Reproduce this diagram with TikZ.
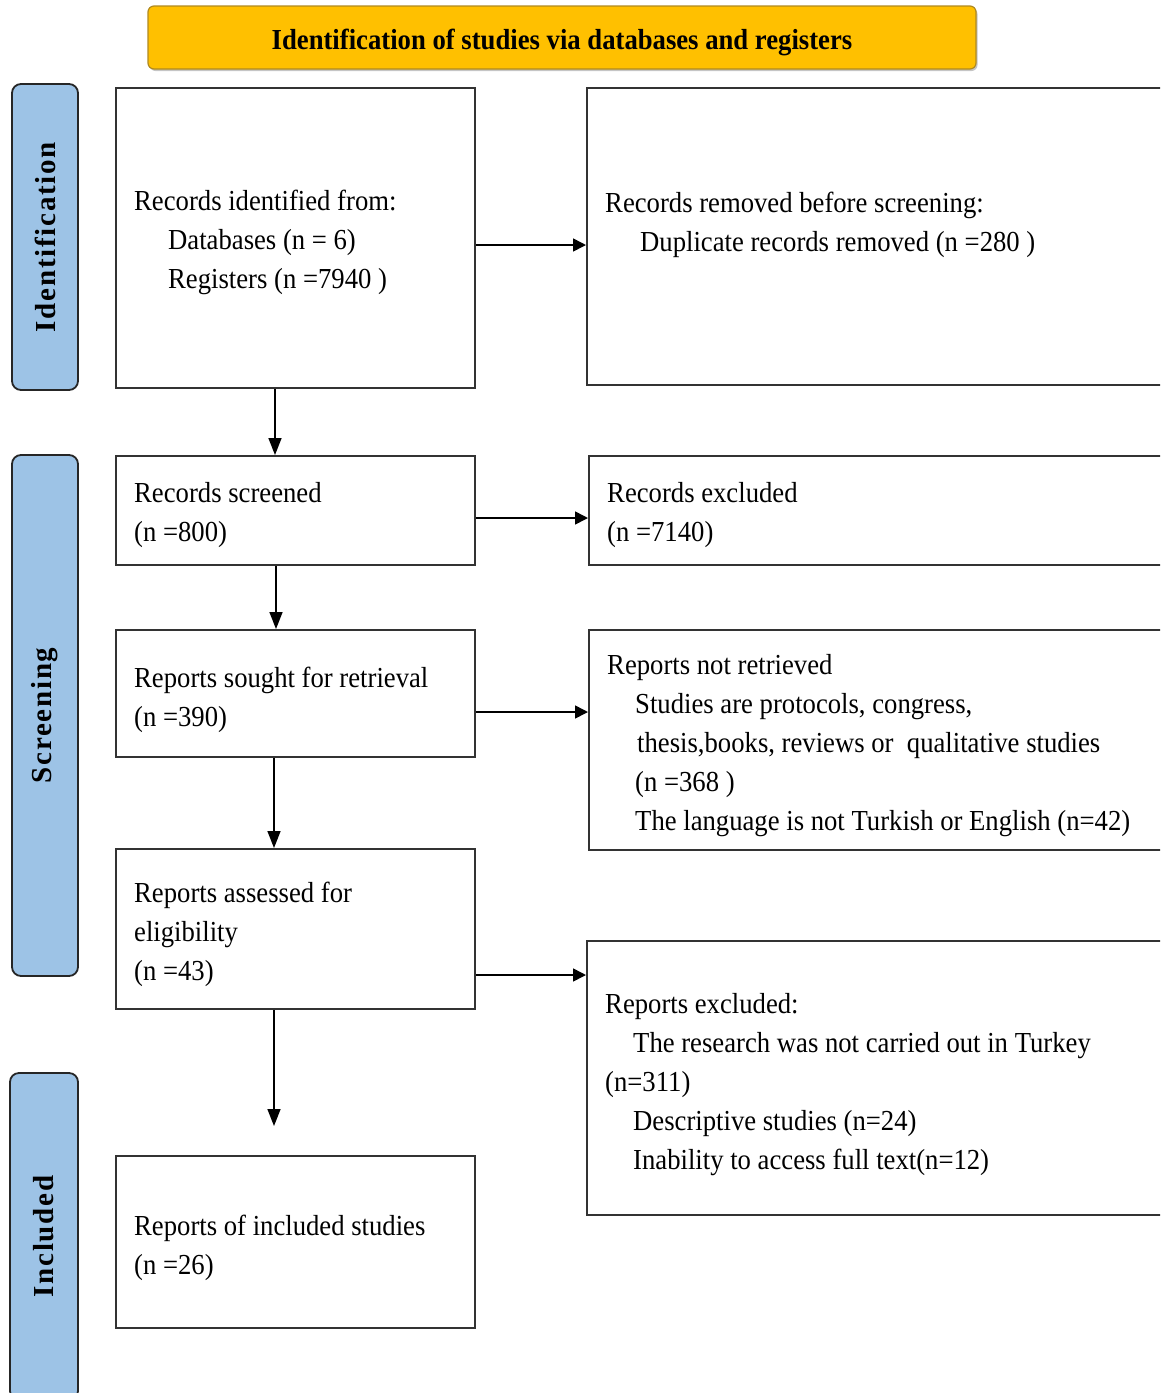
\documentclass[tikz,border=0pt]{standalone}
\usepackage{fontspec}
\setmainfont{Liberation Serif}[FakeStretch=0.92]
\newfontfamily\sidefont{Liberation Serif}[LetterSpace=6]
\usetikzlibrary{arrows.meta,shadows}
\definecolor{sideblue}{HTML}{9DC3E6}
\definecolor{bannergold}{HTML}{FFC000}
\definecolor{bannerline}{HTML}{B08A20}
\begin{document}
\begin{tikzpicture}[x=1pt,y=-1pt,
 box/.style={draw=black!80, line width=2pt, inner sep=0pt, fill=white},
 side/.style={draw=black!85, line width=1.8pt, fill=sideblue, rounded corners=9pt, inner sep=0pt,
   font=\sidefont\bfseries\fontsize{29}{34}\selectfont},
 banner/.style={draw=bannerline, line width=1.2pt, fill=bannergold, rounded corners=6pt, inner sep=0pt,
   drop shadow={shadow xshift=1.5pt, shadow yshift=-2pt, opacity=0.45},
   font=\bfseries\fontsize{29}{34}\selectfont},
 txt/.style={anchor=base west, align=left, inner sep=0pt, font=\fontsize{29}{39.2}\selectfont},
 arr/.style={line width=1.6pt, -{Triangle[length=13pt,width=13pt]}},
 arrd/.style={line width=1.6pt, -{Triangle[length=17pt,width=13pt]}}
]
\useasboundingbox (0,0) rectangle (1160,1393);
\clip (0,0) rectangle (1160,1393);
\fill[white] (0,0) rectangle (1160,1393);

% banner
\node[banner, minimum width=828pt, minimum height=63pt] (ban) at (562,37.5) {\raisebox{-5pt}[\height][\depth]{Identification of studies via databases and registers}};

% side labels
\node[side, rotate=90, minimum width=306pt, minimum height=66pt] (s1) at (45,237) {Identification};
\node[side, rotate=90, minimum width=521pt, minimum height=66pt] (s2) at (45,715.5) {Screening};
\node[side, rotate=90, minimum width=327pt, minimum height=68pt] (s3) at (44,1236.5) {Included};

% boxes
\node[box, minimum width=359pt, minimum height=300pt] (b1) at (295.5,238) {};
\node[box, minimum width=583pt, minimum height=297pt] (b2) at (878.5,236.5) {};
\node[box, minimum width=359pt, minimum height=109pt] (b3) at (295.5,510.5) {};
\node[box, minimum width=581pt, minimum height=109pt] (b4) at (879.5,510.5) {};
\node[box, minimum width=359pt, minimum height=127pt] (b5) at (295.5,693.5) {};
\node[box, minimum width=581pt, minimum height=220pt] (b6) at (879.5,740) {};
\node[box, minimum width=359pt, minimum height=160pt] (b7) at (295.5,929) {};
\node[box, minimum width=583pt, minimum height=274pt] (b8) at (878.5,1078) {};
\node[box, minimum width=359pt, minimum height=172pt] (b9) at (295.5,1242) {};

% texts (anchored at the baseline of their last line)
\node[txt] (t1) at (134,288.4) {Records identified from:\\\hspace*{34pt}Databases (n = 6)\\\hspace*{34pt}Registers (n =7940 )};
\node[txt] (t2) at (605,251.2) {Records removed before screening:\\\hspace*{35pt}Duplicate records removed (n =280 )};
\node[txt] (t3) at (134,541.2) {Records screened\\(n =800)};
\node[txt] (t4) at (607,541.2) {Records excluded\\(n =7140)};
\node[txt] (t5) at (134,726.2) {Reports sought for retrieval\\(n =390)};
\node[txt] (t6) at (607,830.8) {Reports not retrieved\\\hspace*{28pt}Studies are protocols, congress,\\\hspace*{30pt}thesis,books, reviews or\ \ qualitative studies\\\hspace*{28pt}(n =368 )\\\hspace*{28pt}The language is not Turkish or English (n=42)};
\node[txt] (t7) at (134,980.4) {Reports assessed for\\eligibility\\(n =43)};
\node[txt] (t8) at (605,1169.8) {Reports excluded:\\\hspace*{28pt}The research was not carried out in Turkey\\(n=311)\\\hspace*{28pt}Descriptive studies (n=24)\\\hspace*{28pt}Inability to access full text(n=12)};
\node[txt] (t9) at (134,1274.2) {Reports of included studies\\(n =26)};

% horizontal arrows
\draw[arr] (b1.east |- 0,245) -- (b2.west |- 0,245);
\draw[arr] (b3.east |- 0,518) -- (b4.west |- 0,518);
\draw[arr] (b5.east |- 0,712) -- (b6.west |- 0,712);
\draw[arr] (b7.east |- 0,975) -- (b8.west |- 0,975);

% vertical arrows
\draw[arrd] (b1.south -| 275,0) -- (b3.north -| 275,0);
\draw[arrd] (b3.south -| 276,0) -- (b5.north -| 276,0);
\draw[arrd] (b5.south -| 274,0) -- (b7.north -| 274,0);
\draw[arrd, shorten >=29pt] (b7.south -| 274,0) -- (b9.north -| 274,0);
\end{tikzpicture}
\end{document}
